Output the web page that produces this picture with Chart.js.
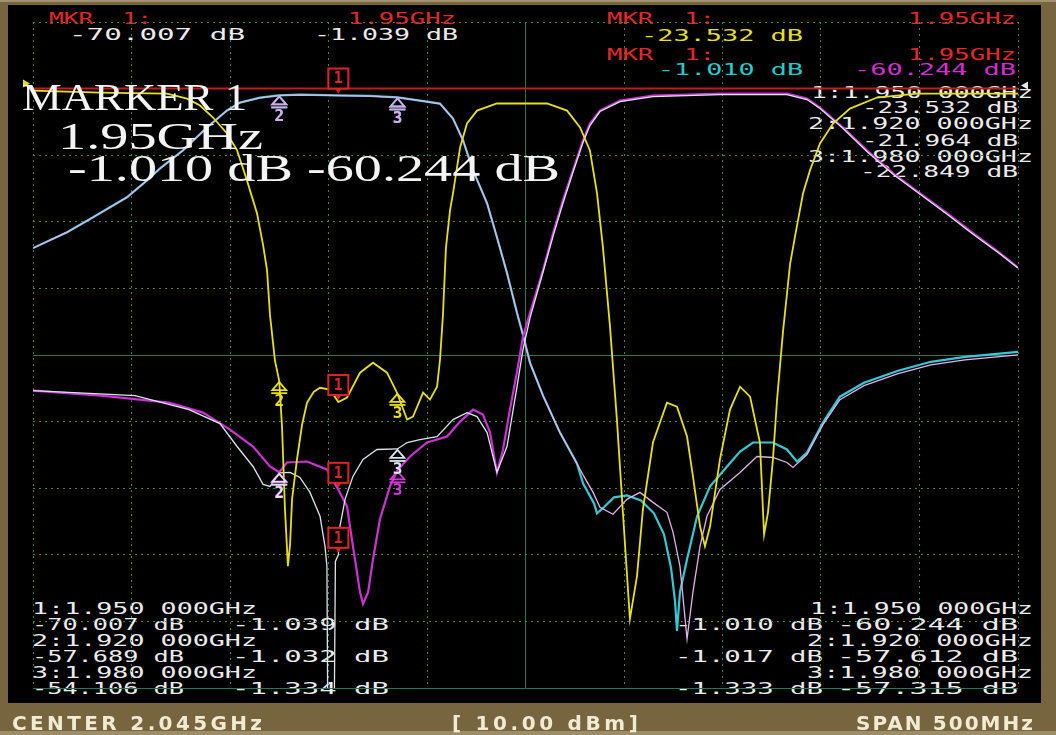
<!DOCTYPE html>
<html><head><meta charset="utf-8">
<script src="https://cdn.jsdelivr.net/npm/chart.js@4.4.0/dist/chart.umd.min.js"></script>
<style>
html,body{margin:0;padding:0;}
body{width:1056px;height:735px;overflow:hidden;position:relative;background:#76653f;}
#edgeTop{position:absolute;left:0;top:0;width:1056px;height:2px;background:#a39270;}
#edgeBot{position:absolute;left:0;top:731px;width:1056px;height:4px;background:#9d8c68;}
#screen{position:absolute;left:8px;top:5px;width:1033px;height:698px;background:#000;}
#readouts,#overlay,#bar{position:absolute;left:0;top:0;width:1056px;height:735px;}
#cv{position:absolute;left:0;top:0;}
.t{position:absolute;white-space:pre;transform-origin:0 0;}
</style>
</head><body>
<div id="edgeTop"></div><div id="edgeBot"></div>
<div id="screen"></div>
<div id="readouts"></div>
<canvas id="cv" width="1056" height="735"></canvas>
<div id="overlay"></div>
<div id="bar"></div>
<script>
// ---- axis ticks (GHz, dB) ----
const xTicks = [1.795,1.845,1.895,1.945,1.995,2.045,2.095,2.145,2.195,2.245,2.295];
const yTicks = [10,0,-10,-20,-30,-40,-50,-60,-70,-80,-90];

// ---- S11 (yellow, 5 dB/div): [GHz, dB] ----
const s11Pts = [[1.7950,-0.15],[1.8290,-0.30],[1.8630,-0.37],[1.8732,-0.75],[1.8798,-1.27],[1.8864,-2.17],[1.8935,-3.37],[1.8986,-4.64],[1.9036,-6.89],[1.9087,-9.36],[1.9118,-11.75],[1.9138,-13.62],[1.9153,-16.99],[1.9178,-20.40],[1.9200,-21.96],[1.9214,-25.37],[1.9229,-31.59],[1.9244,-35.85],[1.9255,-34.21],[1.9265,-30.84],[1.9290,-27.84],[1.9316,-25.22],[1.9341,-23.58],[1.9376,-22.75],[1.9407,-22.46],[1.9458,-22.60],[1.9500,-23.53],[1.9544,-23.20],[1.9610,-21.33],[1.9676,-20.58],[1.9747,-21.33],[1.9798,-22.85],[1.9849,-24.85],[1.9879,-24.63],[1.9930,-22.83],[1.9965,-23.35],[2.0001,-22.38],[2.0016,-20.36],[2.0031,-16.99],[2.0046,-11.98],[2.0067,-9.13],[2.0082,-7.86],[2.0118,-4.42],[2.0153,-2.62],[2.0204,-1.65],[2.0305,-1.12],[2.0559,-1.12],[2.0661,-1.65],[2.0727,-2.92],[2.0777,-4.64],[2.0813,-7.86],[2.0843,-11.90],[2.0879,-17.89],[2.0914,-24.85],[2.0950,-33.08],[2.0980,-39.82],[2.1016,-36.60],[2.1046,-31.59],[2.1097,-26.57],[2.1168,-23.58],[2.1219,-23.88],[2.1270,-26.12],[2.1300,-29.12],[2.1336,-32.86],[2.1361,-34.36],[2.1387,-32.86],[2.1437,-27.84],[2.1488,-24.10],[2.1539,-22.38],[2.1590,-23.13],[2.1640,-26.57],[2.1661,-33.46],[2.1681,-31.81],[2.1706,-27.84],[2.1727,-23.35],[2.1757,-18.26],[2.1793,-13.17],[2.1823,-10.70],[2.1859,-7.86],[2.1894,-6.14],[2.1945,-4.12],[2.2011,-2.62],[2.2097,-1.50],[2.2234,-0.67],[2.2437,-0.37],[2.2950,-0.37]];

// ---- channel 2 Tx S21 (cyan): [GHz, dB] ----
const tx2Pts = [[1.7950,-23.95],[1.8123,-21.56],[1.8255,-19.31],[1.8427,-16.32],[1.8529,-13.77],[1.8595,-11.98],[1.8711,-9.28],[1.8833,-5.84],[1.8935,-3.29],[1.9001,-2.10],[1.9102,-1.35],[1.9200,-1.02],[1.9305,-0.90],[1.9500,-1.01],[1.9661,-1.10],[1.9800,-1.33],[1.9914,-1.80],[2.0016,-2.25],[2.0082,-4.49],[2.0133,-7.78],[2.0184,-12.28],[2.0255,-17.22],[2.0305,-22.31],[2.0356,-27.69],[2.0407,-33.68],[2.0437,-36.98],[2.0473,-41.17],[2.0539,-46.11],[2.0625,-51.65],[2.0711,-56.29],[2.0742,-59.28],[2.0798,-62.28],[2.0813,-63.77],[2.0848,-62.87],[2.0899,-61.38],[2.0965,-61.08],[2.1036,-61.83],[2.1102,-63.77],[2.1153,-66.92],[2.1189,-72.01],[2.1209,-76.95],[2.1219,-81.44],[2.1234,-75.60],[2.1270,-70.66],[2.1321,-64.22],[2.1387,-59.73],[2.1473,-56.74],[2.1539,-54.49],[2.1605,-53.14],[2.1706,-53.14],[2.1777,-54.19],[2.1828,-55.99],[2.1879,-54.64],[2.1960,-50.15],[2.2046,-46.26],[2.2168,-44.16],[2.2341,-42.37],[2.2508,-41.02],[2.2681,-40.27],[2.2950,-39.52]];

// ---- channel 1 Tx S21 (lavender): [GHz, dB] ----
const tx1Pts = [[1.7950,-23.95],[1.8123,-21.56],[1.8255,-19.31],[1.8427,-16.32],[1.8529,-13.77],[1.8595,-11.98],[1.8711,-9.28],[1.8833,-5.84],[1.8935,-3.29],[1.9001,-2.10],[1.9102,-1.38],[1.9200,-1.03],[1.9305,-0.95],[1.9500,-1.04],[1.9661,-1.12],[1.9800,-1.33],[1.9914,-1.82],[2.0016,-2.28],[2.0082,-4.49],[2.0133,-7.78],[2.0184,-12.28],[2.0255,-17.22],[2.0305,-22.31],[2.0356,-27.69],[2.0407,-33.68],[2.0437,-36.98],[2.0473,-41.17],[2.0539,-46.11],[2.0625,-51.65],[2.0711,-56.29],[2.0742,-58.00],[2.0793,-60.63],[2.0828,-62.87],[2.0894,-63.92],[2.0965,-61.68],[2.1031,-60.63],[2.1097,-62.13],[2.1168,-63.62],[2.1199,-66.62],[2.1234,-71.71],[2.1270,-82.63],[2.1300,-75.60],[2.1336,-68.71],[2.1371,-64.22],[2.1437,-60.18],[2.1539,-57.63],[2.1625,-55.24],[2.1706,-55.39],[2.1777,-56.14],[2.1808,-56.89],[2.1879,-54.94],[2.1960,-50.45],[2.2046,-46.71],[2.2168,-44.61],[2.2341,-42.81],[2.2508,-41.47],[2.2681,-40.72],[2.2950,-39.97]];

// ---- channel 2 Rx S21 (magenta): [GHz, dB] ----
const rx2Pts = [[1.7950,-45.36],[1.8295,-46.11],[1.8640,-47.16],[1.8813,-48.65],[1.8950,-51.20],[1.9067,-53.74],[1.9153,-56.74],[1.9200,-57.61],[1.9239,-56.14],[1.9341,-55.99],[1.9442,-57.19],[1.9500,-60.24],[1.9544,-62.72],[1.9574,-68.71],[1.9610,-75.60],[1.9625,-77.40],[1.9651,-75.60],[1.9676,-70.66],[1.9711,-64.67],[1.9762,-59.73],[1.9800,-57.32],[1.9864,-55.24],[1.9950,-53.14],[2.0052,-52.25],[2.0118,-50.00],[2.0184,-48.20],[2.0234,-48.95],[2.0270,-51.65],[2.0305,-57.63],[2.0336,-54.19],[2.0371,-48.20],[2.0407,-42.51],[2.0437,-37.28],[2.0473,-33.68],[2.0539,-27.25],[2.0590,-21.71],[2.0640,-16.77],[2.0691,-12.28],[2.0742,-7.78],[2.0777,-5.24],[2.0828,-3.29],[2.0930,-1.80],[2.1097,-1.05],[2.1437,-0.75],[2.1777,-0.75],[2.1879,-1.50],[2.1945,-2.84],[2.2062,-5.84],[2.2183,-9.28],[2.2316,-12.72],[2.2453,-15.72],[2.2590,-18.71],[2.2722,-21.71],[2.2859,-24.70],[2.2950,-26.90]];

// ---- channel 1 Rx S21 (white): [GHz, dB] ----
const rx1Pts = [[1.7950,-45.36],[1.8468,-46.11],[1.8742,-48.20],[1.8899,-50.30],[1.8986,-53.74],[1.9067,-56.74],[1.9118,-59.43],[1.9153,-59.73],[1.9200,-57.69],[1.9255,-57.63],[1.9305,-58.38],[1.9356,-60.63],[1.9407,-64.22],[1.9432,-68.71],[1.9442,-71.71],[1.9447,-98.00],[1.9478,-98.00],[1.9485,-71.00],[1.9500,-70.01],[1.9508,-65.72],[1.9534,-61.68],[1.9574,-58.23],[1.9625,-55.69],[1.9696,-54.19],[1.9800,-54.11],[1.9849,-53.14],[1.9914,-52.69],[2.0001,-52.25],[2.0082,-49.70],[2.0153,-48.65],[2.0204,-49.25],[2.0255,-51.65],[2.0305,-57.63],[2.0356,-53.74],[2.0407,-44.76],[2.0437,-39.22],[2.0473,-34.43],[2.0539,-27.54],[2.0590,-22.16],[2.0640,-17.22],[2.0691,-12.57],[2.0742,-8.08],[2.0777,-5.54],[2.0828,-3.44],[2.0930,-1.95],[2.1097,-1.20],[2.1437,-0.90],[2.1777,-0.90],[2.1879,-1.65],[2.1945,-2.99],[2.2062,-5.99],[2.2183,-9.43],[2.2316,-12.87],[2.2453,-15.87],[2.2590,-18.86],[2.2722,-21.86],[2.2859,-24.85],[2.2950,-26.95]];

// ---- markers ----
const mkrFreq = [1.95, 1.92, 1.98];
const s11Mkr = [-23.532, -21.964, -22.849];
const tx1Mkr = [-1.039, -1.032, -1.334];
const rx1Mkr = [-70.007, -57.689, -54.106];
const tx2Mkr = [-1.010, -1.017, -1.333];
const rx2Mkr = [-60.244, -57.612, -57.315];

const centerGHz = 2.045, spanMHz = 500, powerDbm = 10.00;

const C = {yellow:'#e6e01e', white:'#d8e6ec', magenta:'#cc32d4', lav:'#e2b2ea', cyan:'#36c8d4', red:'#e02424', grid:'#2f8a58', gridC:'#267a4c'};

function mk(label, pts, color, w, axis, order){
  return {label, data: pts.map(p=>({x:p[0], y:p[1]})), borderColor:color, borderWidth:w,
          yAxisID:axis, order, pointRadius:0, tension:0, fill:false};
}

const refPlugin = {
  id:'ref',
  beforeDatasetsDraw(chart){
    const {ctx, chartArea:a, scales} = chart;
    const y0 = scales.y.getPixelForValue(0);
    ctx.save();
    ctx.strokeStyle = '#c41c1c'; ctx.lineWidth = 2;
    ctx.beginPath(); ctx.moveTo(a.left, y0); ctx.lineTo(a.right, y0); ctx.stroke();
    ctx.fillStyle = C.yellow;
    ctx.beginPath(); ctx.moveTo(a.left-10, y0-9); ctx.lineTo(a.left-3, y0-5); ctx.lineTo(a.left-10, y0-1); ctx.closePath(); ctx.fill();
    ctx.fillStyle = '#e8e8e8';
    ctx.beginPath(); ctx.moveTo(a.right+3, y0-3); ctx.lineTo(a.right+10, y0-7); ctx.lineTo(a.right+10, y0+1); ctx.closePath(); ctx.fill();
    ctx.restore();
  }
};

const mkrSets = [
  {vals: rx2Mkr, axis:'y', color:'#d43ad8', box:true},
  {vals: rx1Mkr, axis:'y', color:'#d8e6ee', box:true},
  {vals: tx2Mkr, axis:'y', color:'#40d0e0', box:false},
  {vals: tx1Mkr, axis:'y', color:'#dca8e8', box:true},
  {vals: s11Mkr, axis:'y2', color:'#e8e020', box:true},
];
const markerPlugin = {
  id:'mkrs',
  afterDatasetsDraw(chart){
    const {ctx, scales} = chart;
    ctx.save();
    ctx.textAlign = 'center';
    mkrSets.forEach(set => {
      set.vals.forEach((v, i) => {
        const x = scales.x.getPixelForValue(mkrFreq[i]);
        const y = scales[set.axis].getPixelForValue(v);
        if (i === 0) {
          if (!set.box) return;
          ctx.fillStyle = '#000';
          ctx.fillRect(x-10, y-27, 20, 20);
          ctx.strokeStyle = C.red; ctx.lineWidth = 2;
          ctx.strokeRect(x-10, y-27, 20, 20);
          ctx.fillStyle = C.red; ctx.font = 'bold 15px "DejaVu Sans Mono"';
          ctx.textBaseline = 'middle';
          ctx.fillText('1', x, y-16);
          ctx.beginPath(); ctx.moveTo(x-3, y-7); ctx.lineTo(x+3, y-7); ctx.lineTo(x, y-2); ctx.closePath(); ctx.fill();
        } else {
          ctx.strokeStyle = set.color; ctx.fillStyle = set.color; ctx.lineWidth = 1.8;
          ctx.beginPath(); ctx.moveTo(x, y+1); ctx.lineTo(x-7, y+9); ctx.lineTo(x+7, y+9); ctx.closePath(); ctx.stroke();
          ctx.beginPath(); ctx.moveTo(x-8, y+12); ctx.lineTo(x+8, y+12); ctx.stroke();
          ctx.font = 'bold 16px "DejaVu Sans Mono"'; ctx.textBaseline = 'top';
          ctx.fillText(String(i+1), x, y+13);
        }
      });
    });
    ctx.restore();
  }
};

function solid(v, list){ return list.some(s => Math.abs(v - s) < 1e-6); }

new Chart(document.getElementById('cv'), {
  type:'line',
  data:{ datasets:[
    mk('Return loss', s11Pts, C.yellow, 1.8, 'y2', 0),
    mk('Ch1 Rx', rx1Pts, C.white, 1.3, 'y', 1),
    mk('Ch2 Rx', rx2Pts, C.magenta, 2.2, 'y', 2),
    mk('Ch1 Tx', tx1Pts, C.lav, 1.3, 'y', 3),
    mk('Ch2 Tx', tx2Pts, C.cyan, 2.2, 'y', 4),
  ]},
  options:{
    responsive:false, animation:false, devicePixelRatio:1,
    layout:{padding:{left:33, right:38, top:22, bottom:47}},
    plugins:{legend:{display:false}, tooltip:{enabled:false}},
    scales:{
      x:{type:'linear', min:xTicks[0], max:xTicks[xTicks.length-1],
         afterBuildTicks:s=>{ s.ticks = xTicks.map(v=>({value:v})); },
         ticks:{display:false},
         grid:{drawTicks:false, lineWidth:1, color:c=> c.tick && solid(c.tick.value,[centerGHz]) ? C.gridC : C.grid},
         border:{display:false, dash:c=> c.tick && solid(c.tick.value,[centerGHz]) ? [] : [2,4]}},
      y:{type:'linear', min:yTicks[yTicks.length-1], max:yTicks[0],
         afterBuildTicks:s=>{ s.ticks = yTicks.map(v=>({value:v})); },
         ticks:{display:false},
         grid:{drawTicks:false, lineWidth:1, color:c=> c.tick && solid(c.tick.value,[-40,-90]) ? C.gridC : C.grid},
         border:{display:false, dash:c=> c.tick && solid(c.tick.value,[-40,-90]) ? [] : [2,4]}},
      y2:{type:'linear', display:false, min:-45, max:5}
    }
  },
  plugins:[refPlugin, markerPlugin]
});

// ---- text ----
const mctx = document.createElement('canvas').getContext('2d');
const MONO = "'DejaVu Sans Mono', monospace", SERIF = "'Liberation Serif', serif", SANS = "'DejaVu Sans', sans-serif";
function place(parent, it, fam, size, weight, off, mode){
  const d = document.createElement('div');
  d.className = 't';
  d.textContent = it.t;
  const font = weight + ' ' + size + 'px ' + fam;
  d.style.font = font; d.style.lineHeight = '1';
  d.style.left = it.x + 'px';
  d.style.top = (it.cap - off*size) + 'px';
  d.style.color = it.c;
  mctx.font = font;
  const w0 = mctx.measureText(it.t).width;
  if (mode === 'ls') d.style.letterSpacing = ((it.w - w0)/(it.t.length-1)) + 'px';
  else d.style.transform = 'scaleX(' + (it.w / w0) + ')';
  parent.appendChild(d);
}
const dB = v => v.toFixed(3) + ' dB';
const fq = (i) => (i+1) + ':' + mkrFreq[i].toFixed(3) + ' 000GHz';
const W = '#ececec', R = '#e42828', Y = '#e6e01e', CY = '#24cccc', MG = '#d22ed2';
const ro = document.getElementById('readouts');
const mkrLabel = 'MKR  1:', mkrF = mkrFreq[0].toFixed(2) + 'GHz';
[
  {t:mkrLabel, x:49, cap:13, w:103, c:R}, {t:mkrF, x:348, cap:13, w:108, c:R},
  {t:dB(rx1Mkr[0]), x:69, cap:29, w:176, c:W}, {t:dB(tx1Mkr[0]), x:314, cap:29, w:144, c:W},
  {t:mkrLabel, x:607, cap:13, w:108, c:R}, {t:mkrF, x:908, cap:13, w:108, c:R},
  {t:dB(s11Mkr[0]), x:641, cap:30, w:162, c:Y},
  {t:mkrLabel, x:607, cap:49, w:108, c:R}, {t:mkrF, x:908, cap:49, w:108, c:R},
  {t:dB(tx2Mkr[0]), x:658, cap:64, w:145, c:CY}, {t:dB(rx2Mkr[0]), x:854, cap:64, w:162, c:MG},
].forEach(it => place(ro, it, MONO, 16, 'normal', 0.117, 'scale'));
[
  {t:fq(0), x:811, cap:88, w:222, c:W}, {t:dB(s11Mkr[0]), x:862, cap:103, w:156, c:W},
  {t:fq(1), x:808, cap:119, w:225, c:W}, {t:dB(s11Mkr[1]), x:862, cap:136, w:156, c:W},
  {t:fq(2), x:808, cap:152, w:225, c:W}, {t:dB(s11Mkr[2]), x:860, cap:167, w:158, c:W},
  {t:fq(0), x:32, cap:604, w:225, c:W}, {t:dB(rx1Mkr[0]), x:32, cap:620, w:152, c:W}, {t:dB(tx1Mkr[0]), x:232, cap:620, w:157, c:W},
  {t:fq(1), x:32, cap:636, w:225, c:W}, {t:dB(rx1Mkr[1]), x:32, cap:652, w:152, c:W}, {t:dB(tx1Mkr[1]), x:232, cap:652, w:157, c:W},
  {t:fq(2), x:32, cap:668, w:225, c:W}, {t:dB(rx1Mkr[2]), x:32, cap:684, w:152, c:W}, {t:dB(tx1Mkr[2]), x:232, cap:684, w:157, c:W},
  {t:fq(0), x:810, cap:604, w:223, c:W}, {t:dB(tx2Mkr[0]), x:675, cap:620, w:148, c:W}, {t:dB(rx2Mkr[0]), x:837, cap:620, w:181, c:W},
  {t:fq(1), x:807, cap:636, w:226, c:W}, {t:dB(tx2Mkr[1]), x:675, cap:652, w:148, c:W}, {t:dB(rx2Mkr[1]), x:837, cap:652, w:181, c:W},
  {t:fq(2), x:807, cap:668, w:226, c:W}, {t:dB(tx2Mkr[2]), x:675, cap:684, w:148, c:W}, {t:dB(rx2Mkr[2]), x:837, cap:684, w:181, c:W},
].forEach(it => place(ro, it, MONO, 15, 'normal', 0.117, 'scale'));

const ov = document.getElementById('overlay');
[
  {t:'MARKER 1', x:22, cap:86, w:225, c:'#f4f4f4'},
  {t:mkrF, x:58, cap:125, w:205, c:'#f4f4f4'},
  {t:dB(tx2Mkr[0]) + ' ' + dB(rx2Mkr[0]), x:68, cap:157, w:492, c:'#f4f4f4'},
].forEach(it => place(ov, it, SERIF, 37, 'normal', 0.1825, 'scale'));

const bar = document.getElementById('bar');
[
  {t:'CENTER ' + centerGHz.toFixed(3) + 'GHz', x:12, cap:715, w:250, c:'#f2ead2'},
  {t:'[ ' + powerDbm.toFixed(2) + ' dBm]', x:452, cap:715, w:186, c:'#f2ead2'},
  {t:'SPAN ' + spanMHz + 'MHz', x:856, cap:715, w:177, c:'#f2ead2'},
].forEach(it => place(bar, it, SANS, 20, 'bold', 0.117, 'ls'));
</script>
</body></html>
